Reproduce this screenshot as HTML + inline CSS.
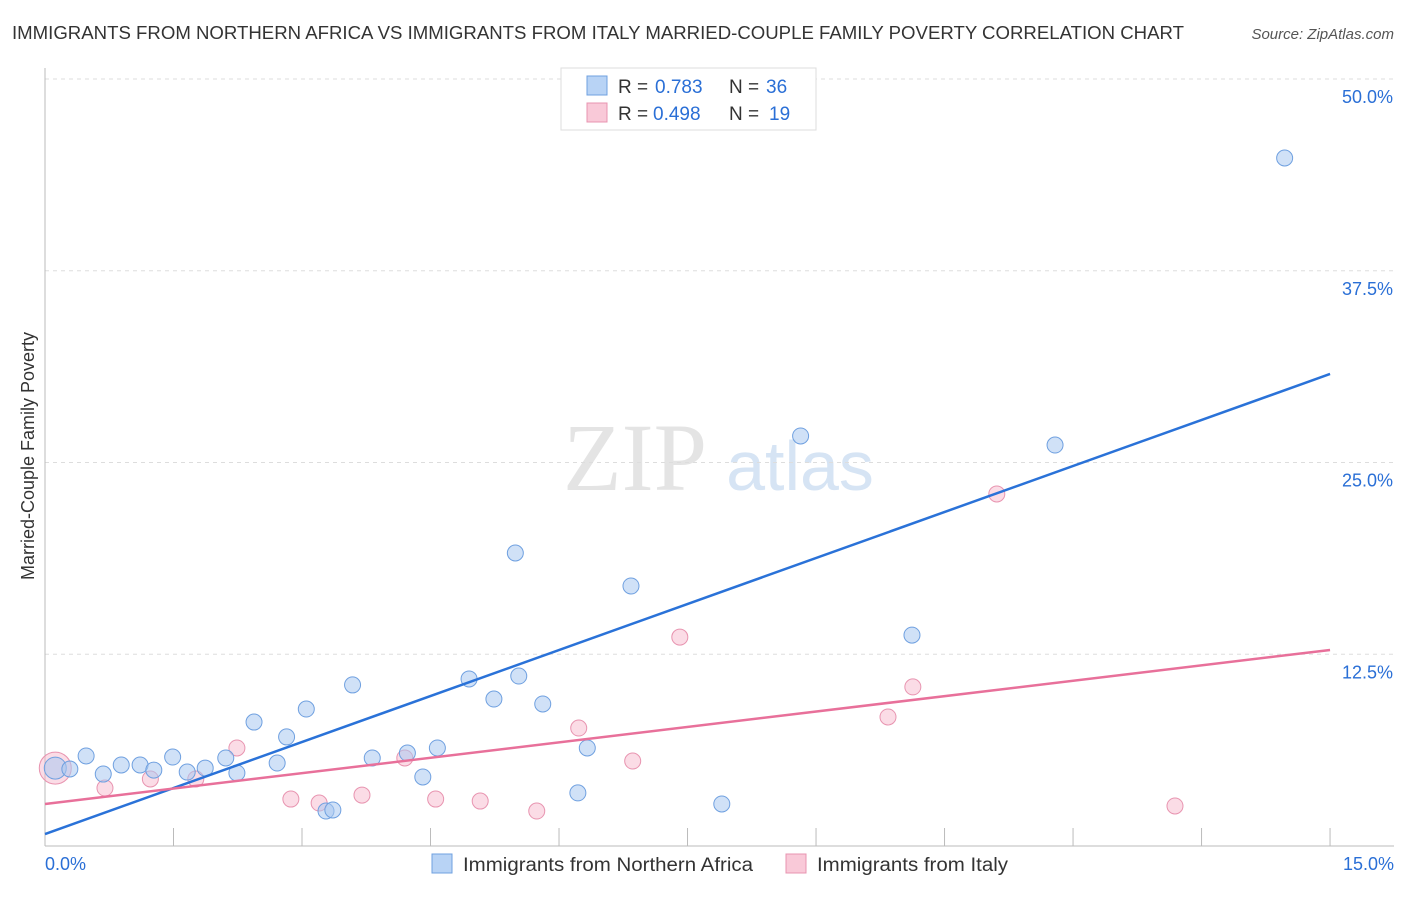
<!DOCTYPE html>
<html><head><meta charset="utf-8"><style>
body{margin:0;background:#fff;font-family:"Liberation Sans",sans-serif;}
svg text{font-family:"Liberation Sans",sans-serif;}
</style></head><body>
<svg id="chart" width="1406" height="892" xmlns="http://www.w3.org/2000/svg">
<text x="12" y="39" font-size="18" fill="#333" textLength="1172" lengthAdjust="spacingAndGlyphs">IMMIGRANTS FROM NORTHERN AFRICA VS IMMIGRANTS FROM ITALY MARRIED-COUPLE FAMILY POVERTY CORRELATION CHART</text>
<text x="1394" y="39" font-size="15" fill="#555" font-style="italic" text-anchor="end">Source: ZipAtlas.com</text>
<text x="635" y="490" font-size="96" fill="#e4e4e4" text-anchor="middle" style="font-family:'Liberation Serif',serif">ZIP</text>
<text x="800" y="490" font-size="70" fill="#d6e4f4" text-anchor="middle">atlas</text>
<g id="grid"></g>
<g id="axes"></g>
<text transform="translate(34,456) rotate(-90)" font-size="18" fill="#333" text-anchor="middle">Married-Couple Family Poverty</text>
<g id="pts"></g>
<g id="lines"></g>
<g>
<rect x="561" y="68" width="255" height="62" fill="#fff" stroke="#ddd"/>
<rect x="587" y="76" width="20" height="19" fill="#b8d3f5" stroke="#6fa0e0"/>
<text x="618" y="93" font-size="19" fill="#333">R =</text>
<text x="655" y="93" font-size="19" fill="#2a6fd6">0.783</text>
<text x="729" y="93" font-size="19" fill="#333">N =</text>
<text x="766" y="93" font-size="19" fill="#2a6fd6">36</text>
<rect x="587" y="103" width="20" height="19" fill="#f9c9d8" stroke="#e894b0"/>
<text x="618" y="120" font-size="19" fill="#333">R =</text>
<text x="653" y="120" font-size="19" fill="#2a6fd6">0.498</text>
<text x="729" y="120" font-size="19" fill="#333">N =</text>
<text x="769" y="120" font-size="19" fill="#2a6fd6">19</text>
</g>
<g>
<rect x="432" y="854" width="20" height="19" fill="#b8d3f5" stroke="#6fa0e0"/>
<text x="463" y="871" font-size="19" fill="#333" textLength="290" lengthAdjust="spacingAndGlyphs">Immigrants from Northern Africa</text>
<rect x="786" y="854" width="20" height="19" fill="#f9c9d8" stroke="#e894b0"/>
<text x="817" y="871" font-size="19" fill="#333" textLength="191" lengthAdjust="spacingAndGlyphs">Immigrants from Italy</text>
</g>
</svg>
<script>
const yTicks=[12.5,25,37.5,50];
const yTickLabels=["12.5%","25.0%","37.5%","50.0%"];
const xTickLabels=["0.0%","15.0%"];
const blueX=[0.12,0.29,0.48,0.68,0.89,1.11,1.27,1.49,1.66,1.87,2.11,2.24,2.44,2.71,2.82,3.05,3.28,3.36,3.59,3.82,4.23,4.41,4.58,4.95,5.24,5.49,5.53,5.81,6.22,6.33,6.84,7.90,8.82,10.12,11.79,14.47];
const blueY=[5.08,5.02,5.87,4.69,5.28,5.28,4.95,5.80,4.82,5.08,5.74,4.76,8.08,5.41,7.11,8.93,2.28,2.35,10.50,5.74,6.06,4.50,6.39,10.89,9.58,19.10,11.08,9.26,3.46,6.39,16.95,2.74,26.73,13.75,26.14,44.85];
const pinkX=[0.12,0.70,1.23,1.76,2.24,2.87,3.20,3.70,4.20,4.56,5.08,5.74,6.23,6.86,7.41,9.84,10.13,11.11,13.19];
const pinkY=[5.08,3.78,4.37,4.37,6.39,3.06,2.80,3.32,5.74,3.06,2.93,2.28,7.69,5.54,13.62,8.41,10.37,22.95,2.61];
const blueLine=[0.78,30.77];
const pinkLine=[2.74,12.78];
const NS="http://www.w3.org/2000/svg";
const X=v=>45+v*85.67, Y=v=>846-v*15.34;
function mk(t,a,p){const e=document.createElementNS(NS,t);for(const k in a)e.setAttribute(k,a[k]);document.getElementById(p).appendChild(e);return e;}
yTicks.forEach((t,i)=>{
 const g=mk('line',{x1:45,x2:1394,y1:Y(t),y2:Y(t),stroke:'#ddd','stroke-dasharray':'4,4'},'grid');
 
 
 const l=mk('text',{x:1393,y:Y(t)+24,'font-size':18,fill:'#2a6fd6','text-anchor':'end'},'grid');
 l.textContent=yTickLabels[i];
 
 
});
const ax=mk('line',{x1:45,x2:45,y1:68,y2:846,stroke:'#bbb'},'axes');


const bx=mk('line',{x1:45,x2:1394,y1:846,y2:846,stroke:'#bbb'},'axes');


for(let i=1;i<=10;i++){
 const t=mk('line',{x1:X(i*1.5),x2:X(i*1.5),y1:828,y2:846,stroke:'#bbb'},'axes');
 
 
}
[[0,'start',45],[15,'end',1394]].forEach((d,i)=>{
 const l=mk('text',{x:d[2],y:870,'font-size':18,fill:'#2a6fd6','text-anchor':d[1]},'axes');
 l.textContent=xTickLabels[i];
 
 
});
pinkX.forEach((x,i)=>{
 const c=mk('circle',{cx:X(x),cy:Y(pinkY[i]),r:i==0?16:8,fill:'rgba(246,178,200,0.45)',stroke:'#e894b0','stroke-width':1},'pts');
 
 
});
blueX.forEach((x,i)=>{
 const c=mk('circle',{cx:X(x),cy:Y(blueY[i]),r:i==0?11:8,fill:'rgba(170,200,240,0.55)',stroke:'#6fa0e0','stroke-width':1},'pts');
 
 
});
const bl=mk('line',{x1:X(0),y1:Y(blueLine[0]),x2:X(15),y2:Y(blueLine[1]),stroke:'#2a72d8','stroke-width':2.5},'lines');


const pl=mk('line',{x1:X(0),y1:Y(pinkLine[0]),x2:X(15),y2:Y(pinkLine[1]),stroke:'#e8709a','stroke-width':2.5},'lines');


</script>
</body></html>
